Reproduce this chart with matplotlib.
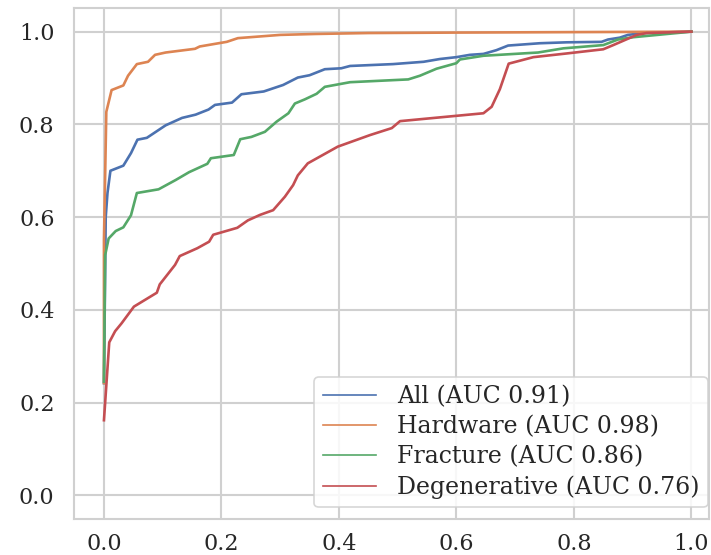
import numpy as np
import matplotlib
matplotlib.use("Agg")
import matplotlib.pyplot as plt
from matplotlib.lines import Line2D

# ROC curves
hw_fpr = [0, 0, 0.004, 0.013, 0.033, 0.041, 0.056, 0.075, 0.087, 0.105, 0.155, 0.163,
          0.186, 0.209, 0.228, 0.30, 0.36, 0.45, 0.60, 0.80, 1.0]
hw_tpr = [0.242, 0.55, 0.827, 0.874, 0.884, 0.905, 0.930, 0.935, 0.950, 0.955, 0.963, 0.968,
          0.973, 0.978, 0.986, 0.993, 0.995, 0.997, 0.998, 0.999, 1.0]

all_fpr = [0, 0.003, 0.006, 0.011, 0.033, 0.046, 0.057, 0.073, 0.105, 0.133, 0.156, 0.178,
           0.189, 0.218, 0.234, 0.272, 0.305, 0.330, 0.350, 0.362, 0.376, 0.404, 0.419,
           0.492, 0.544, 0.572, 0.600, 0.623, 0.646, 0.668, 0.688, 0.742, 0.788, 0.847,
           0.858, 0.878, 0.892, 0.918, 1.0]
all_tpr = [0.242, 0.60, 0.652, 0.700, 0.711, 0.738, 0.767, 0.771, 0.798, 0.814, 0.821, 0.832,
           0.842, 0.847, 0.865, 0.871, 0.885, 0.901, 0.906, 0.912, 0.919, 0.921, 0.926,
           0.930, 0.935, 0.941, 0.945, 0.950, 0.952, 0.960, 0.970, 0.975, 0.977, 0.978,
           0.983, 0.987, 0.993, 0.997, 1.0]

fx_fpr = [0, 0.002, 0.008, 0.020, 0.033, 0.046, 0.056, 0.093, 0.122, 0.145, 0.176, 0.182,
          0.221, 0.232, 0.251, 0.274, 0.294, 0.314, 0.325, 0.342, 0.362, 0.376, 0.419,
          0.518, 0.538, 0.566, 0.600, 0.606, 0.646, 0.739, 0.782, 0.850, 0.875, 0.901, 1.0]
fx_tpr = [0.245, 0.518, 0.554, 0.570, 0.578, 0.604, 0.652, 0.660, 0.680, 0.697, 0.715, 0.727,
          0.734, 0.768, 0.773, 0.784, 0.806, 0.824, 0.845, 0.854, 0.866, 0.881, 0.891,
          0.897, 0.905, 0.920, 0.932, 0.940, 0.948, 0.955, 0.964, 0.971, 0.983, 0.988, 1.0]

dg_fpr = [0, 0.009, 0.019, 0.030, 0.051, 0.090, 0.095, 0.121, 0.129, 0.159, 0.179, 0.186,
          0.227, 0.245, 0.266, 0.288, 0.308, 0.322, 0.330, 0.347, 0.398, 0.453, 0.490,
          0.504, 0.646, 0.660, 0.674, 0.689, 0.731, 0.788, 0.850, 0.867, 0.887, 0.907,
          0.924, 1.0]
dg_tpr = [0.162, 0.330, 0.354, 0.371, 0.407, 0.437, 0.455, 0.497, 0.516, 0.533, 0.547, 0.562,
          0.577, 0.593, 0.605, 0.615, 0.644, 0.669, 0.690, 0.716, 0.752, 0.777, 0.792,
          0.807, 0.824, 0.838, 0.876, 0.931, 0.945, 0.953, 0.962, 0.971, 0.982, 0.993,
          0.997, 1.0]

labels = ["All (AUC 0.91)", "Hardware (AUC 0.98)", "Fracture (AUC 0.86)",
          "Degenerative (AUC 0.76)"]
ticks = [0.0, 0.2, 0.4, 0.6, 0.8, 1.0]
colors = ["#4C72B0", "#DD8452", "#55A868", "#C44E52"]

plt.rcParams["font.family"] = ["DejaVu Serif"]
plt.rcParams["text.color"] = "#262626"

W, H = 711, 555
fig = plt.figure(figsize=(W / 100, H / 100), dpi=100)
ax = fig.add_axes([74 / W, (H - 519) / H, (709 - 74) / W, (519 - 8) / H])

curves = [(all_fpr, all_tpr), (hw_fpr, hw_tpr), (fx_fpr, fx_tpr), (dg_fpr, dg_tpr)]
for (fx, ty), c in zip(curves, colors):
    ax.plot(fx, ty, color=c, lw=1.9, solid_joinstyle="round")

ax.set_xlim(-0.051, 1.03)
ax.set_ylim(-0.051, 1.051)
ax.set_xticks(ticks)
ax.set_yticks(ticks)
ax.set_xticklabels([f"{t:.1f}" for t in ticks])
ax.set_yticklabels([f"{t:.1f}" for t in ticks])
ax.tick_params(axis="x", length=0, pad=10, labelsize=16, labelcolor="#262626")
ax.tick_params(axis="y", length=0, pad=14, labelsize=16, labelcolor="#262626")
ax.grid(True, color="#d0d0d0", lw=1.5)
ax.set_axisbelow(True)
for s in ax.spines.values():
    s.set_color("#d0d0d0")
    s.set_linewidth(1.5)

handles = [Line2D([], [], color=c, lw=1.2) for c in colors]
leg = ax.legend(handles, labels, loc="lower right",
                bbox_to_anchor=(707.7 / W, (H - 507.3) / H), bbox_transform=fig.transFigure,
                borderaxespad=0, fontsize=17, frameon=True, framealpha=0.85,
                edgecolor="#d0d0d0", fancybox=True, labelspacing=0.3,
                handlelength=2.25, handletextpad=0.9, borderpad=0.35)
leg.get_frame().set_linewidth(1.2)

fig.savefig("out.png", dpi=100)
